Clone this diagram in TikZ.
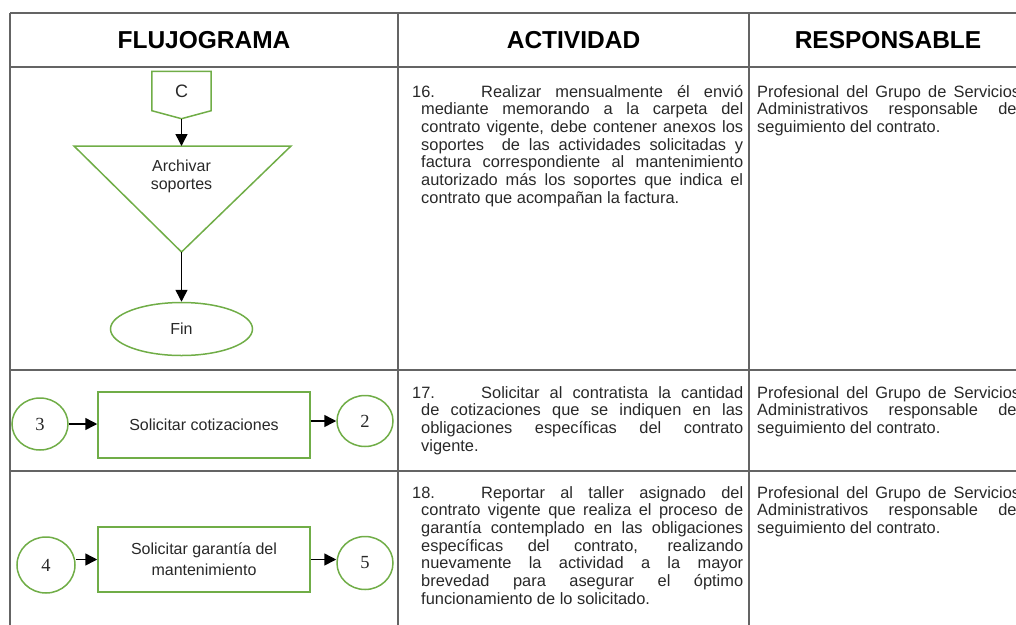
\documentclass[tikz,border=0pt]{standalone}
\usepackage{fontspec}
\setmainfont{Liberation Sans}
\newfontfamily\numfont{Liberation Serif}
\usetikzlibrary{arrows.meta,positioning,calc,shapes.geometric}
\definecolor{verde}{RGB}{112,173,71}
\definecolor{borde}{RGB}{100,100,100}
\definecolor{texto}{RGB}{40,40,40}
\setlength{\parindent}{0pt}
\tolerance=10000
\hbadness=10000
\hyphenpenalty=10000
\newcommand{\numero}[1]{\hspace*{-9pt}\makebox[69pt][l]{#1}}

\begin{document}
\begin{tikzpicture}[
    x=1pt, y=-1pt,
    tabla/.style={draw=borde, line width=1.6pt},
    head/.style={font=\fontsize{24.5}{28}\selectfont\bfseries, text=black},
    act/.style={anchor=base west, inner sep=0pt, text width=322pt, align=justify, font=\fontsize{16.4}{17.7}\selectfont, text=texto},
    resp/.style={act, text width=263pt},
    flujo/.style={align=center, inner sep=0pt, font=\fontsize{16}{18}\selectfont, text=texto},
    proc/.style={flujo, draw=verde, line width=1.5pt, minimum width=212pt, minimum height=66pt},
    fin/.style={flujo, ellipse, draw=verde, line width=1.5pt, minimum width=142pt, minimum height=53pt},
    conn/.style={ellipse, draw=verde, line width=1.5pt, minimum width=56pt, minimum height=52pt, inner sep=0pt, text=texto, font=\numfont\fontsize{18.5}{20}\selectfont},
    flecha/.style={-{Triangle[width=12pt,length=12pt]}, line width=1.5pt}
]
\useasboundingbox (0,0) rectangle (1016,624);

% tabla
\draw[tabla] (10,13) -- (1030,13);
\draw[tabla] (10,67) -- (1030,67);
\draw[tabla] (10,370) -- (1030,370);
\draw[tabla] (10,471) -- (1030,471);
\draw[tabla] (10,13) -- (10,630);
\draw[tabla] (398,13) -- (398,630);
\draw[tabla] (749,13) -- (749,630);

% encabezados
\node[head] (hflujo) at (204,40) {FLUJOGRAMA};
\node[head] (hact) at (573.5,40) {ACTIVIDAD};
\node[head] (hresp) at (888,40) {RESPONSABLE};

% fila 16
\node[flujo, font=\fontsize{18}{20}\selectfont, minimum width=59pt, minimum height=39pt] (C) at (181.5,91) {C};
\draw[verde, line width=1.5pt] (C.south west) -- (C.north west) -- (C.north east) -- (C.south east)
    -- ($(C.south)+(0,8)$) coordinate (Cpunta) -- cycle;
\node[flujo] (archivar) at (181.5,176) {Archivar\\soportes};
\coordinate (tri1) at (74,146);
\coordinate (tri2) at (291,146);
\coordinate (tri3) at (181.5,252);
\coordinate (triarriba) at (181.5,146);
\draw[verde, line width=1.5pt] (tri1) -- (tri2) -- (tri3) -- cycle;
\node[fin] (fin) at (181.5,329) {Fin};
\draw[flecha] (Cpunta) -- (triarriba);
\draw[flecha] (tri3) -- (fin.north);

\node[act] (a16) at (421,97) {\numero{16.}Realizar mensualmente él envió\linebreak
    mediante memorando a la carpeta del\linebreak
    contrato vigente, debe contener anexos los\linebreak
    soportes\ \ de las actividades solicitadas y\linebreak
    factura correspondiente al mantenimiento\linebreak
    autorizado más los soportes que indica el\linebreak
    contrato que acompañan la factura.};
\node[resp] (r16) at (757,97) {Profesional del Grupo de Servicios\linebreak
    Administrativos responsable del\linebreak
    seguimiento del contrato.};

% fila 17
\node[conn] (c3) at (40,424) {3};
\node[proc] (cotiz) at (204,425) {Solicitar cotizaciones};
\node[conn, minimum height=51pt] (c2) at (365,421) {2};
\draw[flecha] (c3.east) -- (c3.east -| cotiz.west);
\draw[flecha] (cotiz.east |- c2.west) -- (c2.west);

\node[act] (a17) at (421,398) {\numero{17.}Solicitar al contratista la cantidad\linebreak
    de cotizaciones que se indiquen en las\linebreak
    obligaciones específicas del contrato\linebreak
    vigente.};
\node[resp] (r17) at (757,398) {Profesional del Grupo de Servicios\linebreak
    Administrativos responsable del\linebreak
    seguimiento del contrato.};

% fila 18
\node[conn, minimum width=58pt, minimum height=56pt] (c4) at (46,565) {4};
\node[proc, minimum height=65pt, font=\fontsize{16}{21}\selectfont] (garantia) at (204,559.5) {Solicitar garantía del\\mantenimiento};
\node[conn, minimum height=53pt] (c5) at (365,563) {5};
\draw[flecha] (garantia.west -| c4.east) -- (garantia.west);
\draw[flecha] (garantia.east) -- (garantia.east -| c5.west);

\node[act] (a18) at (421,498) {\numero{18.}Reportar al taller asignado del\linebreak
    contrato vigente que realiza el proceso de\linebreak
    garantía contemplado en las obligaciones\linebreak
    específicas del contrato, realizando\linebreak
    nuevamente la actividad a la mayor\linebreak
    brevedad para asegurar el óptimo\linebreak
    funcionamiento de lo solicitado.};
\node[resp] (r18) at (757,498) {Profesional del Grupo de Servicios\linebreak
    Administrativos responsable del\linebreak
    seguimiento del contrato.};

\end{tikzpicture}
\end{document}
